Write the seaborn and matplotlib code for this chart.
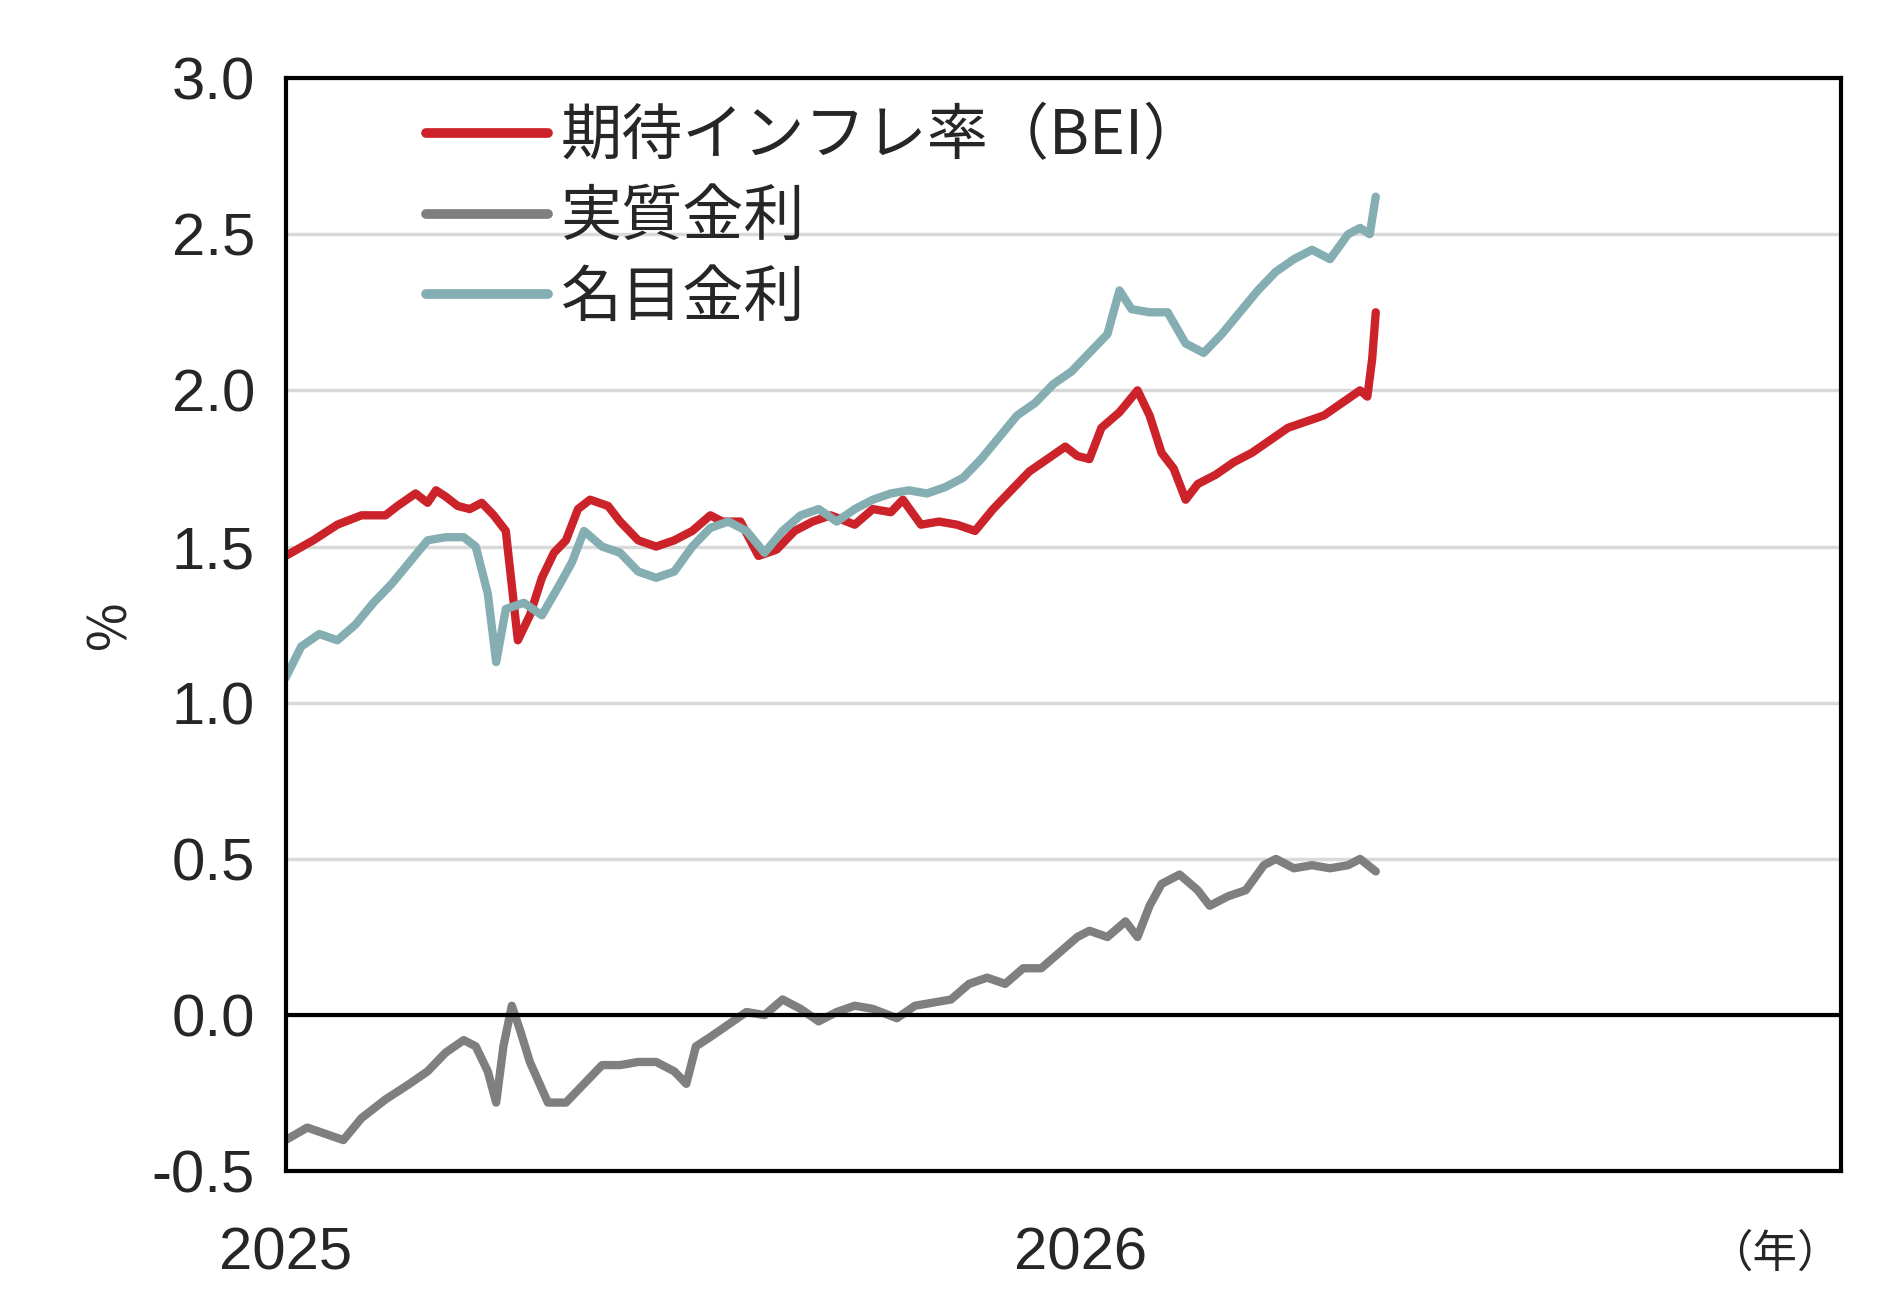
import matplotlib
matplotlib.use("Agg")
import matplotlib.pyplot as plt
import seaborn as sns
import numpy as np
import pandas as pd

# x positions in "chart units": 661 units = 1 year from 2025-01-01
bei_x = [0,23,43,63,83,93,108,118,125,133,143,153,163,173,183,193,203,213,223,233,243,253,268,278,293,308,323,338,353,363,378,393,408,423,438,453,473,488,503,513,528,543,558,573,588,603,618,633,648,658,668,678,693,708,718,728,738,748,758,773,788,803,818,833,848,863,878,893,899,903,906]
bei_y = [1.47,1.52,1.57,1.60,1.60,1.63,1.67,1.64,1.68,1.66,1.63,1.62,1.64,1.60,1.55,1.20,1.28,1.40,1.48,1.52,1.62,1.65,1.63,1.58,1.52,1.50,1.52,1.55,1.60,1.58,1.58,1.47,1.49,1.55,1.58,1.60,1.57,1.62,1.61,1.65,1.57,1.58,1.57,1.55,1.62,1.68,1.74,1.78,1.82,1.79,1.78,1.88,1.93,2.00,1.92,1.80,1.75,1.65,1.70,1.73,1.77,1.80,1.84,1.88,1.90,1.92,1.96,2.00,1.98,2.10,2.25]
nom_x = [0,13,28,43,58,73,88,103,118,133,148,158,168,175,183,198,213,228,238,248,263,278,293,308,323,338,353,368,383,398,413,428,443,458,473,488,503,518,533,548,563,578,593,608,623,638,653,668,683,693,703,718,733,748,763,778,793,808,823,838,853,868,883,893,901,906]
nom_y = [1.08,1.18,1.22,1.20,1.25,1.32,1.38,1.45,1.52,1.53,1.53,1.50,1.35,1.13,1.30,1.32,1.28,1.38,1.45,1.55,1.50,1.48,1.42,1.40,1.42,1.50,1.56,1.58,1.55,1.48,1.55,1.60,1.62,1.58,1.62,1.65,1.67,1.68,1.67,1.69,1.72,1.78,1.85,1.92,1.96,2.02,2.06,2.12,2.18,2.32,2.26,2.25,2.25,2.15,2.12,2.18,2.25,2.32,2.38,2.42,2.45,2.42,2.50,2.52,2.50,2.62]
real_x = [0,18,33,48,63,83,103,118,133,148,158,168,175,181,188,195,203,218,233,248,263,278,293,308,323,333,341,353,368,383,398,413,428,443,458,473,488,508,523,538,553,568,583,598,613,628,643,658,668,683,698,708,718,728,743,758,768,783,798,813,823,838,853,868,883,893,906]
real_y = [-0.40,-0.36,-0.38,-0.40,-0.33,-0.27,-0.22,-0.18,-0.12,-0.08,-0.10,-0.18,-0.28,-0.10,0.03,-0.05,-0.15,-0.28,-0.28,-0.22,-0.16,-0.16,-0.15,-0.15,-0.18,-0.22,-0.10,-0.07,-0.03,0.01,0.00,0.05,0.02,-0.02,0.01,0.03,0.02,-0.01,0.03,0.04,0.05,0.10,0.12,0.10,0.15,0.15,0.20,0.25,0.27,0.25,0.30,0.25,0.35,0.42,0.45,0.40,0.35,0.38,0.40,0.48,0.50,0.47,0.48,0.47,0.48,0.50,0.46]
labels = ["期待インフレ率（BEI）", "実質金利", "名目金利"]
colors = ["#CC2229", "#7F7F7F", "#84AEB2"]
UNITS_PER_YEAR = 661.0

frames = []
for lab, xs, ys in zip(labels, [bei_x, real_x, nom_x], [bei_y, real_y, nom_y]):
    frames.append(pd.DataFrame({"t": 2025 + np.array(xs) / UNITS_PER_YEAR, "v": ys, "s": lab}))
df = pd.concat(frames)

sns.set_style("white")
plt.rcParams['font.family'] = ['Noto Sans CJK JP', 'DejaVu Sans']

fig = plt.figure(figsize=(18.79, 13), dpi=100)
ax = fig.add_axes([0.152, 0.099, 0.828, 0.841])
sns.lineplot(data=df, x="t", y="v", hue="s", hue_order=labels, palette=colors,
             linewidth=6, ax=ax, sort=True)
ax.set_xlim(2025, 2025 + 1293 / UNITS_PER_YEAR)
ax.set_ylim(-0.5, 3.0)
ax.set_yticks(np.arange(-0.5, 3.01, 0.5))
ax.set_yticklabels([f"{v:.1f}" for v in np.arange(-0.5, 3.01, 0.5)], fontsize=43, family="Liberation Sans")
ax.set_xticks([2025, 2026])
ax.set_xticklabels(["2025", "2026"], fontsize=43, family="Liberation Sans")
ax.tick_params(axis="x", length=0, pad=40)
ax.tick_params(axis="y", length=0, pad=22)
ax.yaxis.grid(True, color="#D9D9D9", linewidth=2.5)
ax.axhline(0, color="black", linewidth=3)
for s in ax.spines.values():
    s.set_color("black"); s.set_linewidth(3)
ax.set_xlabel("")
ax.set_ylabel("%", fontsize=38, labelpad=10)
ax.text(1.0, -0.075, "（年）", transform=ax.transAxes, ha="right", va="center", fontsize=32)
leg = ax.legend(loc="upper left", bbox_to_anchor=(0.055, 1.025), frameon=False,
                fontsize=44, handlelength=2.0, labelspacing=0.3, handletextpad=0.2)
for l in leg.get_lines():
    l.set_linewidth(7)
fig.savefig("out.png", dpi=100)
